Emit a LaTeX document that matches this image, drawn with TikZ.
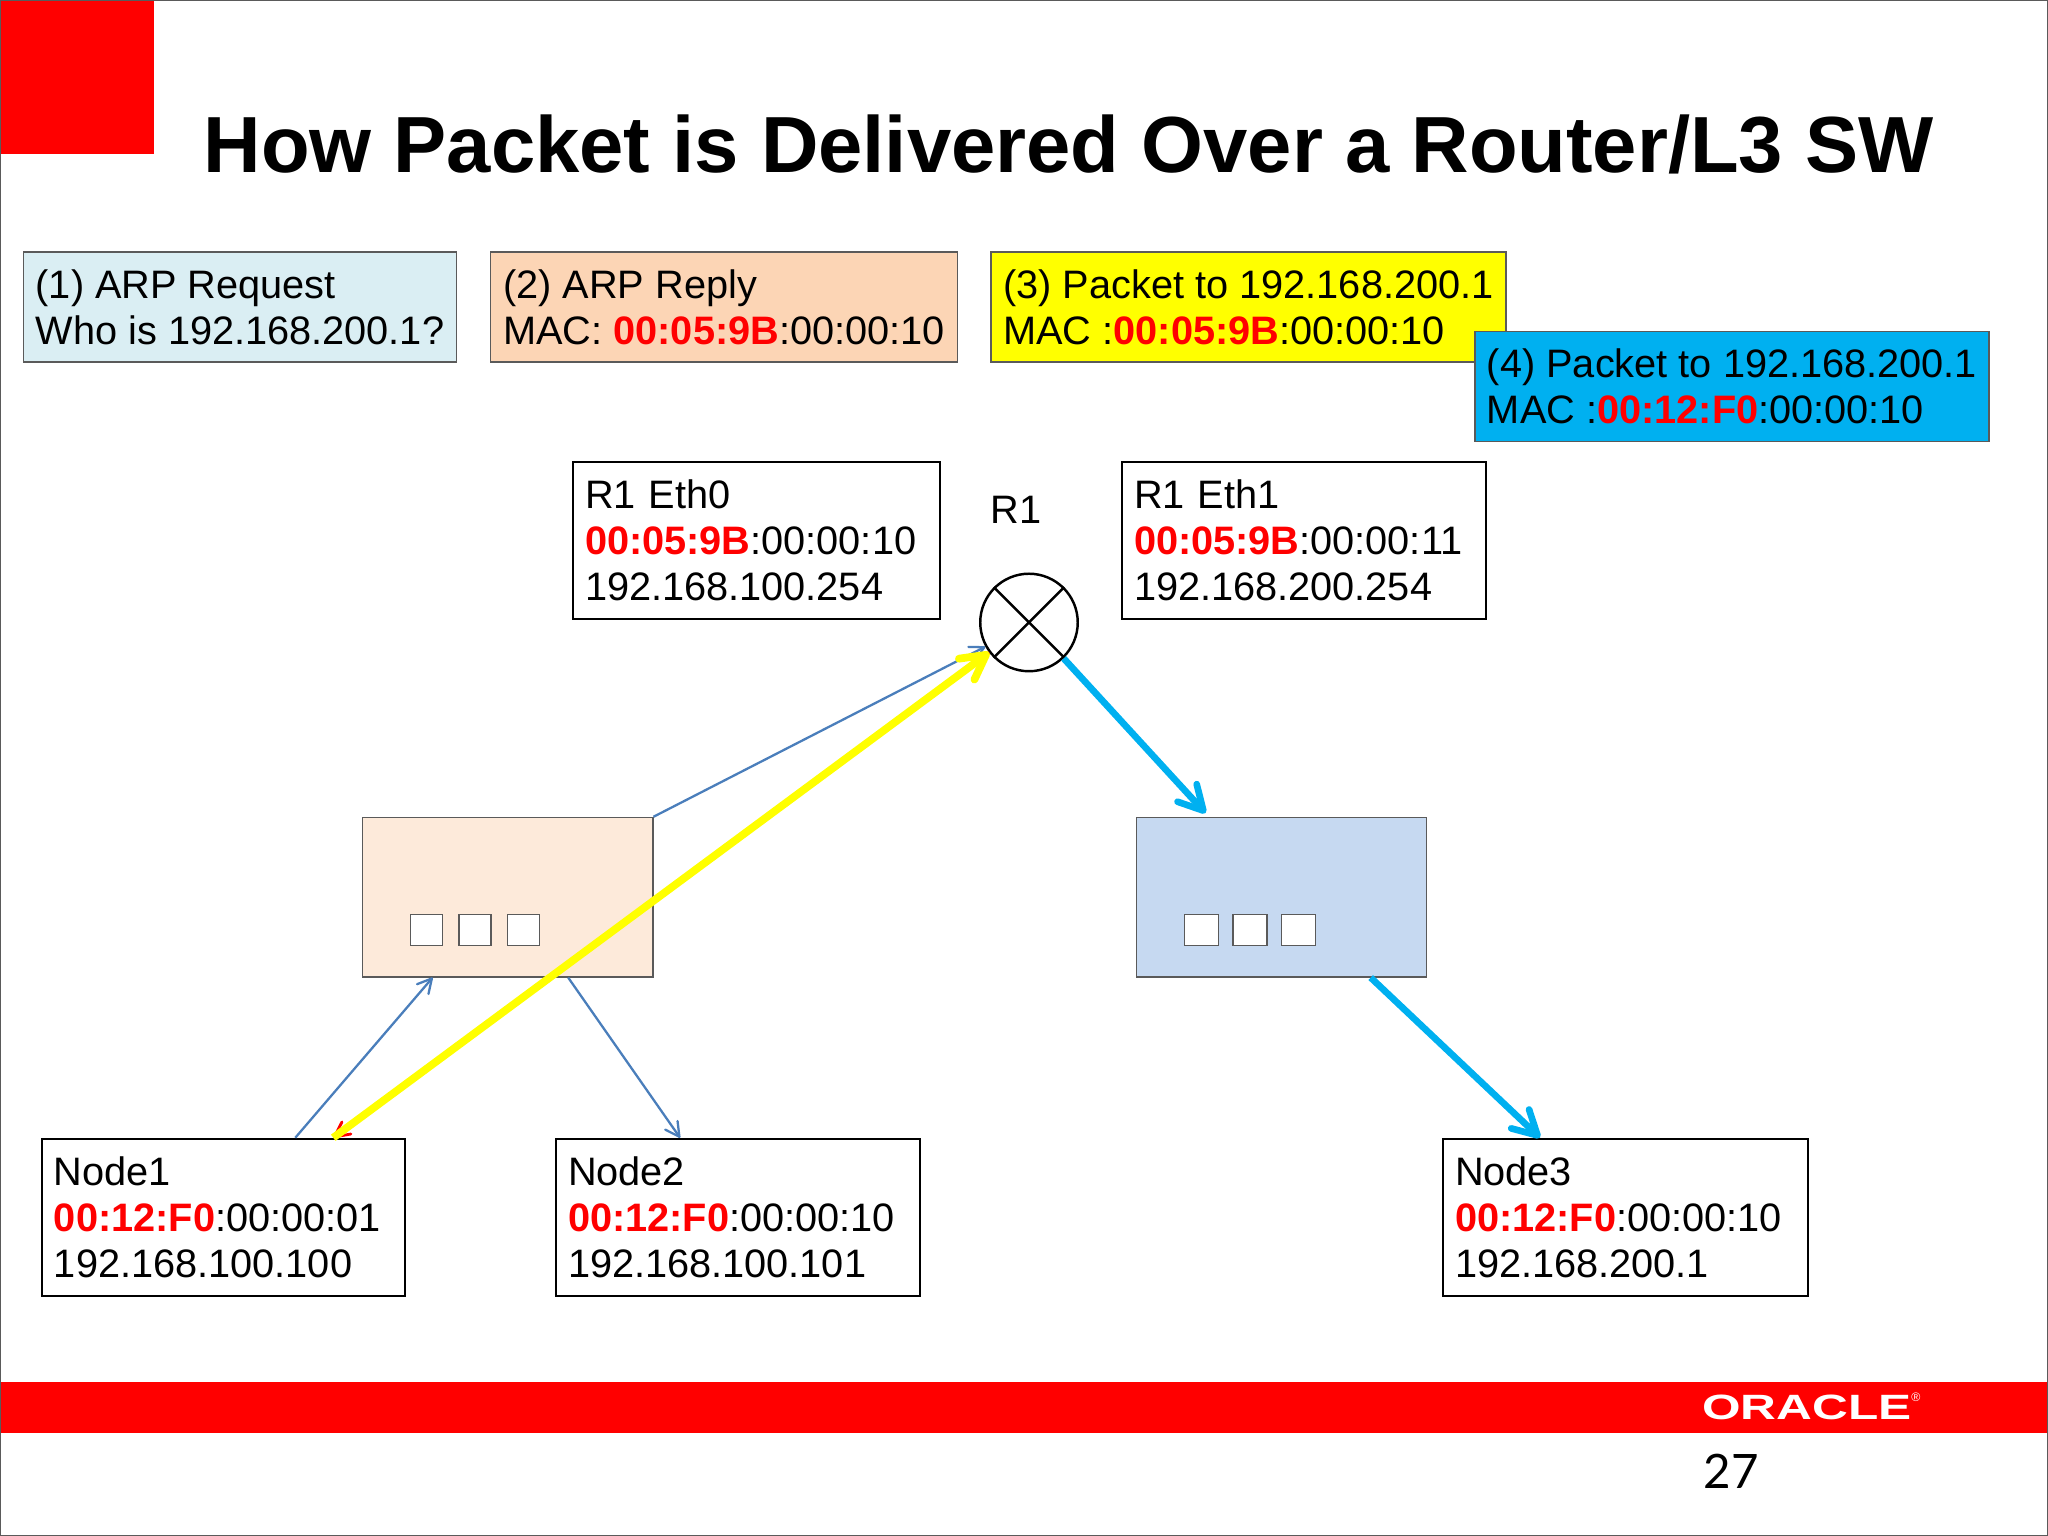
\documentclass[tikz,border=0pt]{standalone}
\usepackage{fontspec}
\setmainfont{Liberation Sans}
\newfontfamily\pagefont{Lato}
\usetikzlibrary{arrows.meta}
\definecolor{framegray}{HTML}{5A5A5A}
\definecolor{thinblue}{HTML}{4A7EBB}
\definecolor{cyanblue}{HTML}{00B0F0}
\definecolor{reqblue}{HTML}{DAEEF3}
\definecolor{replyorange}{HTML}{FCD5B5}
\definecolor{swpeach}{HTML}{FDEADA}
\definecolor{swblue}{HTML}{C6D9F1}
\definecolor{pktyellow}{RGB}{255,255,0}
\newcommand{\redmac}[1]{\textcolor{red}{\textbf{#1}}}
\tikzset{
	txtbox/.style={rectangle, align=left, anchor=center, inner xsep=0.12cm, inner ysep=0pt, font=\fontsize{11.3}{13}\selectfont},
	legend/.style={txtbox, draw=framegray, line width=0.4pt, minimum height=1.1cm},
	info/.style={txtbox, draw, line width=0.7pt, minimum height=1.57cm},
	switchbox/.style={rectangle, draw=framegray, line width=0.4pt, minimum height=1.594cm},
	port/.style={rectangle, draw=framegray, fill=white, line width=0.4pt, minimum height=0.314cm},
	thinarrow/.style={->, thinblue, line width=0.65pt, >={Straight Barb[length=1.4mm,width=1.5mm,round]}},
	thickarrow/.style={->, line width=1.9pt, >={Straight Barb[length=2.4mm,width=2.6mm,round]}},
}
\begin{document}
\begin{tikzpicture}
	\useasboundingbox (0,0) rectangle (20.48,15.36);
	\fill[red] (0,13.82) rectangle (1.54,15.36);
	\fill[red] (0,1.03) rectangle (20.48,1.54);
	\draw[framegray, line width=0.6pt] (0,0) rectangle (20.48,15.36);

	\node (title)	at (2.03,13.63) [anchor=base west, inner sep=0pt, font=\fontsize{22.65}{26}\selectfont\bfseries] {How Packet is Delivered Over a Router/L3 SW};

	\node (arpreq)	at (2.40,12.29) [legend, fill=reqblue, minimum width=4.325cm] {(1) ARP Request\\Who is 192.168.200.1?};
	\node (arprep)	at (7.24,12.29) [legend, fill=replyorange, minimum width=4.67cm] {(2) ARP Reply\\MAC: \redmac{00:05:9B}:00:00:10};
	\node (pkt0)	at (12.485,12.29) [legend, fill=pktyellow, minimum width=5.15cm] {(3) Packet to 192.168.200.1\\MAC :\redmac{00:05:9B}:00:00:10};
	\node (pkt1)	at (17.32,11.495) [legend, fill=cyanblue, minimum width=5.14cm] {(4) Packet to 192.168.200.1\\MAC :\redmac{00:12:F0}:00:00:10};

	\node (eth0)	at (7.565,9.955) [info, minimum width=3.67cm, text width=3.43cm] {R1 Eth0\\\redmac{00:05:9B}:00:00:10\\192.168.100.254};
	\node (eth1)	at (13.04,9.955) [info, minimum width=3.64cm, text width=3.4cm] {R1 Eth1\\\redmac{00:05:9B}:00:00:11\\192.168.200.254};
	\node (r1label)	at (10.16,10.26) [inner sep=0pt, font=\fontsize{11.3}{13}\selectfont] {R1};
	\node (r1)		at (10.29,9.135) [circle, draw, line width=0.7pt, minimum size=0.975cm, inner sep=0pt] {};
	\draw[line width=0.7pt] (r1.45) -- (r1.225) (r1.135) -- (r1.-45);

	\node (sw0)		at (5.076,6.388) [switchbox, fill=swpeach, minimum width=2.904cm] {};
	\node (sw1)		at (12.814,6.388) [switchbox, fill=swblue, minimum width=2.902cm] {};

	\node (port00)	at (4.264,6.06) [port, minimum width=0.32cm] {};
	\node (port01)	at (4.749,6.06) [port, minimum width=0.32cm] {};
	\node (port02)	at (5.233,6.06) [port, minimum width=0.32cm] {};
	\node (port10)	at (12.016,6.06) [port, minimum width=0.34cm] {};
	\node (port11)	at (12.50,6.06) [port, minimum width=0.34cm] {};
	\node (port12)	at (12.982,6.06) [port, minimum width=0.34cm] {};

	\node (node1)	at (2.235,3.185) [info, minimum width=3.63cm, text width=3.39cm] {Node1\\\redmac{00:12:F0}:00:00:01\\192.168.100.100};
	\node (node2)	at (7.38,3.185) [info, minimum width=3.64cm, text width=3.4cm] {Node2\\\redmac{00:12:F0}:00:00:10\\192.168.100.101};
	\node (node3)	at (16.255,3.185) [info, minimum width=3.65cm, text width=3.41cm] {Node3\\\redmac{00:12:F0}:00:00:10\\192.168.200.1};

	\node (logo)	at (18.07,1.285) [white, inner sep=0pt, xscale=1.41, transform shape, font=\fontsize{10}{12}\selectfont\bfseries] {ORACLE};
	\node (reg)		at (19.16,1.39) [white, inner sep=0pt, font=\fontsize{3.5}{4}\selectfont] {®};
	\node (pagenum)	at (17.31,0.65) [inner sep=0pt, font=\fontsize{13.5}{16}\selectfont\pagefont] {27};

	\path (node1.48.6)		edge[thinarrow] (sw0.227.7)
		(sw0.north east)	edge[thinarrow] (r1.209)
		(sw0.-53.8)			edge[thinarrow] (node2.126.5);
	\path (r1.217)			edge[->, red, line width=0.8pt, >={Straight Barb[length=1.5mm,width=1.5mm,round]}] (node1.36.5);
	\path (node1.36.5)		edge[thickarrow, pktyellow, line width=2.2pt] (r1.217);
	\path (r1.-46.6)		edge[thickarrow, cyanblue, shorten >=0.05cm] (sw1.132.4)
		(sw1.-42.3)			edge[thickarrow, cyanblue] (node3.137.8);
\end{tikzpicture}
\end{document}
